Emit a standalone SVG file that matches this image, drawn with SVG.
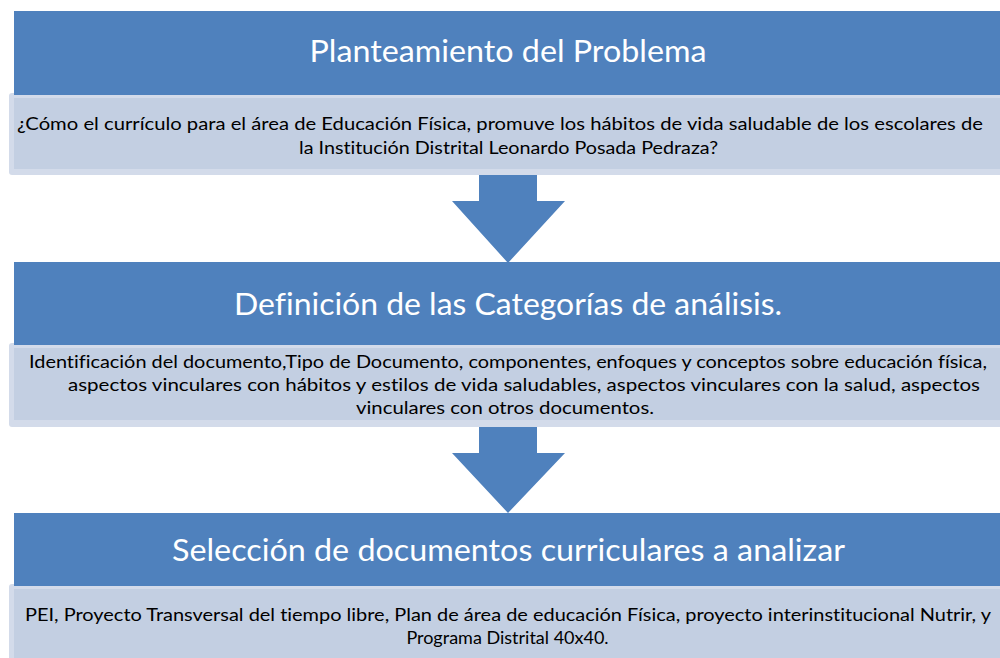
<svg xmlns="http://www.w3.org/2000/svg" width="1000" height="658" viewBox="0 0 1000 658">
  <style>
    .hdr { fill: #4f81bd; }
    .boxo { fill: #d3dbea; }
    .boxi { fill: #c3cfe2; }
    .arrow { fill: #4f81bd; }
    .title { font-family: Lato, "Liberation Sans", sans-serif; font-size: 30px; fill: #ffffff; text-anchor: middle; font-variant-ligatures: none; }
    .body { font-family: Lato, "Liberation Sans", sans-serif; font-size: 18px; fill: #000000; text-anchor: middle; font-variant-ligatures: none; }
  </style>
  <rect width="1000" height="658" fill="#ffffff"/>

  <g id="connectors">
    <path class="arrow" d="M479,175 H537 V201 H565 L508,263 L452,201 H479 Z"/>
    <path class="arrow" d="M479,427 H537 V453 H565 L508,513 L452,453 H479 Z"/>
  </g>

  <g id="node1">
    <rect class="boxo" x="9" y="93" width="1000" height="82" rx="3"/>
    <rect class="boxi" x="14" y="98" width="995" height="71"/>
    <rect class="hdr" x="14" y="11" width="995" height="84"/>
    <text class="title" x="508" y="62" textLength="397" lengthAdjust="spacingAndGlyphs">Planteamiento del Problema</text>
    <text class="body" x="500" y="130" textLength="966" lengthAdjust="spacingAndGlyphs">¿Cómo el currículo para el área de Educación Física, promuve los hábitos de vida saludable de los escolares de</text>
    <text class="body" x="508.5" y="154" textLength="419" lengthAdjust="spacingAndGlyphs">la Institución Distrital Leonardo Posada Pedraza?</text>
  </g>

  <g id="node2">
    <rect class="boxo" x="9" y="343" width="1000" height="84" rx="3"/>
    <rect class="boxi" x="14" y="348" width="995" height="72"/>
    <rect class="hdr" x="14" y="262" width="995" height="83"/>
    <text class="title" x="508" y="315" textLength="548" lengthAdjust="spacingAndGlyphs">Definición de las Categorías de análisis.</text>
    <text class="body" x="508" y="368" textLength="958" lengthAdjust="spacingAndGlyphs">Identificación del documento,Tipo de Documento, componentes, enfoques y conceptos sobre educación física,</text>
    <text class="body" x="524" y="391" textLength="912" lengthAdjust="spacingAndGlyphs">aspectos vinculares con hábitos y estilos de vida saludables, aspectos vinculares con la salud, aspectos</text>
    <text class="body" x="505" y="414" textLength="298" lengthAdjust="spacingAndGlyphs">vinculares con otros documentos.</text>
  </g>

  <g id="node3">
    <rect class="boxo" x="9" y="584" width="1000" height="90" rx="3"/>
    <rect class="boxi" x="14" y="589" width="995" height="80"/>
    <rect class="hdr" x="14" y="513" width="995" height="73"/>
    <text class="title" x="508.5" y="561" textLength="673" lengthAdjust="spacingAndGlyphs">Selección de documentos curriculares a analizar</text>
    <text class="body" x="508" y="621" textLength="966" lengthAdjust="spacingAndGlyphs">PEI, Proyecto Transversal del tiempo libre, Plan de área de educación Física, proyecto interinstitucional Nutrir, y</text>
    <text class="body" x="507.5" y="644">Programa Distrital 40x40.</text>
  </g>
</svg>
